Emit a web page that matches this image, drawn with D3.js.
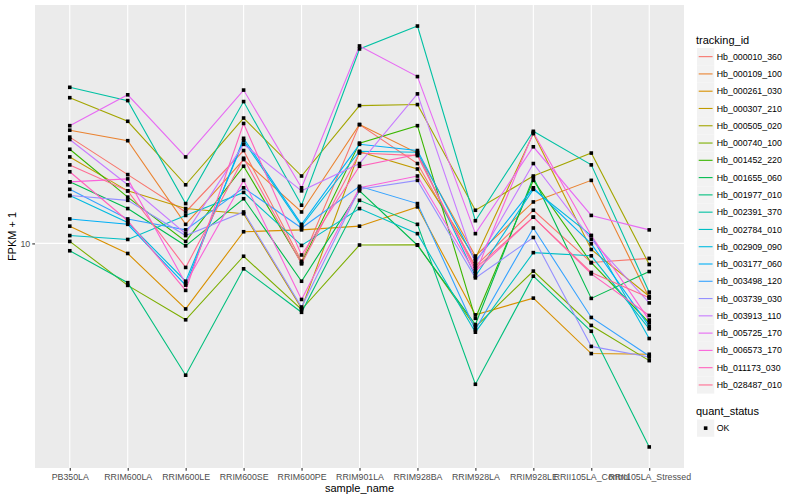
<!DOCTYPE html>
<html>
<head>
<meta charset="utf-8">
<script src="https://cdn.jsdelivr.net/npm/d3@7"></script>
<style>
  body { margin: 0; background: #fff; }
  svg text { font-family: "Liberation Sans", Arial, Helvetica, sans-serif; }
</style>
</head>
<body>
<svg id="chart" width="800" height="500"></svg>
<script>
const sampleNames = ["PB350LA", "RRIM600LA", "RRIM600LE", "RRIM600SE", "RRIM600PE", "RRIM901LA",
  "RRIM928BA", "RRIM928LA", "RRIM928LE", "RRII105LA_Control", "RRII105LA_Stressed"];

const trackingIds = ["Hb_000010_360", "Hb_000109_100", "Hb_000261_030", "Hb_000307_210", "Hb_000505_020",
  "Hb_000740_100", "Hb_001452_220", "Hb_001655_060", "Hb_001977_010", "Hb_002391_370",
  "Hb_002784_010", "Hb_002909_090", "Hb_003177_060", "Hb_003498_120", "Hb_003739_030",
  "Hb_003913_110", "Hb_005725_170", "Hb_006573_170", "Hb_011173_030", "Hb_028487_010"];

// ggplot default hue palette, 20 levels
const idColors = ["#F8766D", "#EA8331", "#D89000", "#C09B00", "#A3A500", "#7CAE00", "#39B600", "#00BB4E",
  "#00BF7D", "#00C1A3", "#00BFC4", "#00BAE0", "#00B0F6", "#35A2FF", "#9590FF", "#C77CFF",
  "#E76BF3", "#FA62DB", "#FF62BC", "#FF6C91"];

// FPKM + 1, one row per tracking_id, one column per sample
const fpkm = [
  [17.0, 14.1, 11.7, 15.9, 9.15, 18.1, 14.9, 8.93, 11.8, 9.09, 9.28],
  [17.6, 16.7, 11.0, 15.2, 11.7, 18.1, 15.7, 9.39, 12.3, 13.7, 7.62],
  [10.9, 9.51, 7.21, 10.6, 10.7, 10.9, 12.0, 7.00, 7.61, 5.77, 5.75],
  [15.4, 13.0, 11.9, 11.6, 7.23, 15.8, 14.5, 9.28, 17.3, 9.70, 7.68],
  [20.7, 18.4, 13.4, 18.7, 14.0, 19.9, 20.0, 11.8, 14.0, 15.7, 9.00],
  [10.1, 8.11, 6.83, 9.38, 7.19, 9.92, 9.93, 6.59, 8.71, 6.64, 5.57],
  [16.0, 12.6, 10.1, 14.7, 9.07, 16.5, 18.0, 6.88, 13.7, 9.08, 6.73],
  [13.6, 11.9, 9.88, 12.5, 8.28, 13.0, 9.91, 6.67, 13.9, 7.60, 8.69],
  [9.64, 8.22, 5.18, 8.81, 7.09, 12.4, 11.0, 4.95, 8.49, 6.45, 3.62],
  [21.8, 20.4, 12.2, 20.3, 12.1, 26.4, 29.6, 11.2, 17.5, 14.8, 7.84],
  [10.4, 10.2, 11.5, 12.9, 9.90, 11.9, 10.5, 6.42, 9.55, 9.40, 6.53],
  [12.7, 11.1, 8.28, 16.7, 10.9, 15.84, 15.76, 8.49, 13.1, 10.4, 6.22],
  [11.3, 11.0, 8.12, 16.9, 11.0, 16.4, 15.9, 9.15, 13.2, 9.98, 6.61],
  [13.1, 11.3, 10.7, 13.2, 10.8, 13.3, 12.2, 6.50, 10.8, 6.91, 5.70],
  [12.7, 12.4, 10.4, 11.7, 7.28, 13.1, 13.7, 8.42, 10.3, 5.98, 5.67],
  [16.8, 13.4, 10.5, 16.4, 13.0, 14.9, 21.1, 9.03, 14.9, 10.2, 7.43],
  [18.0, 21.0, 15.4, 21.5, 13.2, 26.8, 23.0, 10.5, 16.2, 11.5, 10.7],
  [13.6, 13.8, 8.19, 13.7, 7.56, 13.2, 14.0, 8.61, 17.4, 10.4, 6.82],
  [14.3, 11.2, 7.91, 18.2, 9.44, 14.7, 15.6, 8.71, 11.4, 8.59, 6.98],
  [14.8, 13.0, 8.87, 15.3, 9.03, 15.7, 15.5, 8.83, 11.4, 8.65, 7.62]
];

const yTicks = [10];
const statusLevels = ["OK"];

const panel = { left: 35, right: 684, top: 5, bottom: 468 };
const svg = d3.select("#chart");

const x = d3.scalePoint()
  .domain(sampleNames)
  .range([panel.left, panel.right])
  .padding(0.6);

// log axis with ggplot's 5% expansion
const allVals = fpkm.flat();
const lo = Math.log10(d3.min(allVals)), hi = Math.log10(d3.max(allVals));
const pad = (hi - lo) * 0.05;
const y = d3.scaleLog()
  .domain([Math.pow(10, lo - pad), Math.pow(10, hi + pad)])
  .range([panel.bottom, panel.top]);

svg.append("rect")
  .attr("x", panel.left).attr("y", panel.top)
  .attr("width", panel.right - panel.left).attr("height", panel.bottom - panel.top)
  .attr("fill", "#EBEBEB");

// grid
svg.append("g").selectAll("line").data(sampleNames).join("line")
  .attr("x1", d => x(d)).attr("x2", d => x(d))
  .attr("y1", panel.top).attr("y2", panel.bottom)
  .attr("stroke", "#fff").attr("stroke-width", 1.1);
svg.append("g").selectAll("line").data(yTicks).join("line")
  .attr("x1", panel.left).attr("x2", panel.right)
  .attr("y1", d => y(d)).attr("y2", d => y(d))
  .attr("stroke", "#fff").attr("stroke-width", 1.1);

// lines
const line = d3.line()
  .x((d, i) => x(sampleNames[i]))
  .y(d => y(d));
svg.append("g").selectAll("path").data(fpkm).join("path")
  .attr("d", line)
  .attr("fill", "none")
  .attr("stroke", (d, i) => idColors[i])
  .attr("stroke-width", 1.1);

// points
const pts = [];
fpkm.forEach(row => row.forEach((v, j) => pts.push({ s: sampleNames[j], v })));
svg.append("g").selectAll("rect").data(pts).join("rect")
  .attr("x", d => x(d.s) - 1.8).attr("y", d => y(d.v) - 1.8)
  .attr("width", 3.6).attr("height", 3.6)
  .attr("fill", "#000");

// axes
const xAxis = d3.axisBottom(x).tickSize(2.75).tickPadding(3);
const gx = svg.append("g")
  .attr("transform", `translate(0, ${panel.bottom})`)
  .call(xAxis);
const yAxis = d3.axisLeft(y).tickValues(yTicks).tickFormat(d3.format("d")).tickSize(2.75).tickPadding(2);
const gy = svg.append("g")
  .attr("transform", `translate(${panel.left}, 0)`)
  .call(yAxis);
[gx, gy].forEach(g => {
  g.select(".domain").remove();
  g.selectAll(".tick line").attr("stroke", "#333").attr("stroke-width", 1.1);
  g.selectAll(".tick text").attr("fill", "#4D4D4D").style("font-size", "8.8px");
});

svg.append("text")
  .attr("x", (panel.left + panel.right) / 2).attr("y", 492)
  .attr("text-anchor", "middle")
  .style("font-size", "11px")
  .text("sample_name");
svg.append("text")
  .attr("transform", `translate(16, ${(panel.top + panel.bottom) / 2}) rotate(-90)`)
  .attr("text-anchor", "middle")
  .style("font-size", "11px")
  .text("FPKM + 1");

// legend: tracking_id
const leg = svg.append("g").attr("transform", "translate(697, 0)");
leg.append("text").attr("x", -1).attr("y", 44).style("font-size", "11px").text("tracking_id");
const keyH = 17.28;
const keys = leg.selectAll("g.key").data(trackingIds).join("g")
  .attr("class", "key")
  .attr("transform", (d, i) => `translate(0, ${48 + i * keyH})`);
keys.append("rect").attr("width", keyH).attr("height", keyH).attr("fill", "#F2F2F2");
keys.append("line")
  .attr("x1", 1.7).attr("x2", keyH - 1.7)
  .attr("y1", keyH / 2).attr("y2", keyH / 2)
  .attr("stroke", (d, i) => idColors[i]).attr("stroke-width", 1.1);
keys.append("text")
  .attr("x", keyH + 2.5).attr("y", keyH / 2).attr("dy", "0.35em")
  .style("font-size", "8.8px")
  .text(d => d);

// legend: quant_status
const leg2 = svg.append("g").attr("transform", "translate(697, 0)");
leg2.append("text").attr("x", -1).attr("y", 415).style("font-size", "11px").text("quant_status");
const sk = leg2.selectAll("g.skey").data(statusLevels).join("g")
  .attr("class", "skey")
  .attr("transform", (d, i) => `translate(0, ${419.5 + i * keyH})`);
sk.append("rect").attr("width", keyH).attr("height", keyH).attr("fill", "#F2F2F2");
sk.append("rect")
  .attr("x", keyH / 2 - 1.8).attr("y", keyH / 2 - 1.8)
  .attr("width", 3.6).attr("height", 3.6).attr("fill", "#000");
sk.append("text")
  .attr("x", keyH + 2.5).attr("y", keyH / 2).attr("dy", "0.35em")
  .style("font-size", "8.8px")
  .text(d => d);
</script>
</body>
</html>
